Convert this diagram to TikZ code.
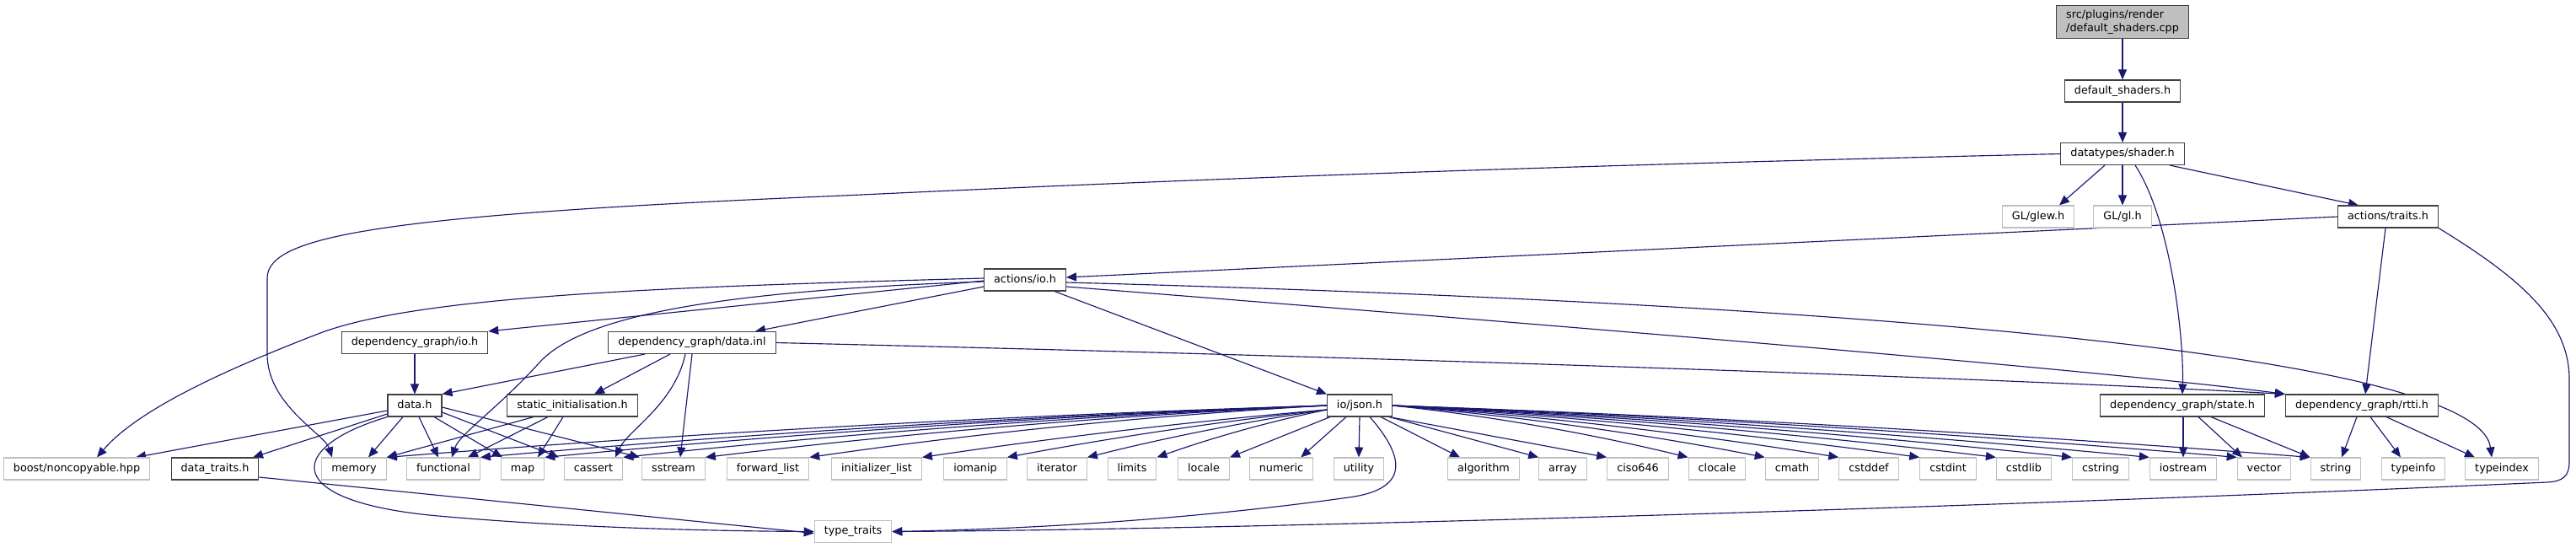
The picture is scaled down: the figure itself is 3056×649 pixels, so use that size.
\documentclass[tikz,border=0pt]{standalone}
\usepackage{fontspec}
\setmainfont{DejaVu Sans}
\usetikzlibrary{arrows.meta,calc}
\definecolor{edgec}{HTML}{191970}
\definecolor{intb}{HTML}{404040}
\definecolor{extb}{HTML}{BFBFBF}
\definecolor{rootf}{HTML}{BFBFBF}
\pgfdeclarelayer{bg}
\pgfsetlayers{bg,main}
\tikzset{
 box/.style={rectangle, inner xsep=11.5pt, inner ysep=0pt, minimum height=26pt, text height=9.6pt, text depth=2.9pt, line width=1.1pt, fill=white},
 intn/.style={box, draw=intb},
 extn/.style={box, draw=extb},
 rootn/.style={rectangle, draw=intb, fill=rootf, line width=1.1pt, inner xsep=11.5pt, inner ysep=5pt, align=left},
 dep/.style={edgec, line width=1.15pt, -{Triangle[length=12pt,width=10pt]}}
}
\newcommand{\bowline}[3]{\draw[dep] (#1) .. controls ($(#1)!0.33!(#2)+(0,-#3)$) and ($(#1)!0.67!(#2)+(0,-#3)$) .. (#2);}
\begin{document}
\begin{tikzpicture}[x=1pt,y=-1pt,font=\fontsize{12.8}{15.5}\selectfont]
\useasboundingbox (0,0) rectangle (3056,649);
% nodes
\node[rootn] (cpp) at (2518,26) {src/plugins/render\\/default\_shaders.cpp};
\node[intn] (dsh) at (2518,108) {default\_shaders.h};
\node[intn] (shader) at (2518,182.5) {datatypes/shader.h};
\node[extn] (glew) at (2418,257) {GL/glew.h};
\node[extn] (gl) at (2518,257) {GL/gl.h};
\node[intn] (traits) at (2833,257) {actions/traits.h};
\node[intn] (io) at (1216,332) {actions/io.h};
\node[intn] (dgio) at (492,406.5) {dependency\_graph/io.h};
\node[intn] (dinl) at (821,406.5) {dependency\_graph/data.inl};
\node[intn] (datah) at (492,481) {data.h};
\node[intn] (stat) at (679,481) {static\_initialisation.h};
\node[intn] (json) at (1613,481) {io/json.h};
\node[intn] (state) at (2589,481) {dependency\_graph/state.h};
\node[intn] (rtti) at (2802,481) {dependency\_graph/rtti.h};
\node[extn] (boost) at (91,556) {boost/noncopyable.hpp};
\node[intn] (dtraits) at (255,556) {data\_traits.h};
\foreach \n/\x/\t in {memory/420/memory, functional/526/functional, map/620/map, cassert/704/cassert, sstream/799/sstream, fwdlist/911/forward\_list, initlist/1040/initializer\_list, iomanip/1157/iomanip, iterator/1254/iterator, limits/1343/limits, locale/1428/locale, numeric/1520/numeric, utility/1612/utility, algorithm/1760/algorithm, array/1854/array, ciso/1943/ciso646, clocale/2037/clocale, cmath/2126/cmath, cstddef/2217/cstddef, cstdint/2311/cstdint, cstdlib/2401/cstdlib, cstring/2492/cstring, iostream/2590/iostream, vector/2686/vector, string/2771/string, typeinfo/2863/typeinfo, typeindex/2968/typeindex}
  {\node[extn] (\n) at (\x,556) {\t};}
\node[extn] (ttraits) at (1012,630.5) {type\_traits};
% edges
\begin{pgfonlayer}{bg}
\draw[dep] (cpp) -- (dsh);
\draw[dep] (dsh) -- (shader);
\draw[dep] (shader.west) .. controls (1700,200) and (1300,218) .. (1000,232) .. controls (450,255) and (317,280) .. (317,330) -- (317,420) .. controls (317,480) and (385,515) .. ([xshift=-26pt]memory.north);
\draw[dep] ([xshift=-21pt]shader.south) -- ([xshift=25pt]glew.north);
\draw[dep] (shader.south) -- (gl.north);
\draw[dep] ([xshift=56pt]shader.south) -- ([xshift=-35pt]traits.north);
\draw[dep] ([xshift=15pt]shader.south) .. controls (2575,260) and (2591,400) .. (state.north);
\draw[dep] (traits.west) -- ([yshift=3pt]io.east);
\draw[dep] ([xshift=-3pt]traits.south) -- ([xshift=4pt]rtti.north);
\draw[dep] (traits.south east) .. controls (2990,330) and (3048,380) .. (3048,450) -- (3048,548) .. controls (3048,565) and (3040,571) .. (3022,572) .. controls (2400,600) and (1500,628) .. (ttraits.east);
% actions/io.h
\draw[dep] ([yshift=2pt]io.west) .. controls (800,340) and (500,350) .. (380,395) .. controls (250,445) and (160,490) .. ([xshift=24pt]boost.north);
\draw[dep] ([yshift=-1pt]io.west) -- (dgio.north east);
\draw[dep] ([yshift=-8pt]io.west) -- ([xshift=75pt]dinl.north);
\draw[dep] ([yshift=-2pt]io.west) .. controls (850,345) and (690,375) .. (640,430) .. controls (590,485) and (545,515) .. ([xshift=10pt]functional.north);
\draw[dep] ([xshift=35pt]io.south) -- (json.north west);
\draw[dep] ([yshift=-8pt]io.east) .. controls (1900,390) and (2500,440) .. (rtti.north west);
\draw[dep] ([yshift=-3pt]io.east) .. controls (2200,360) and (2940,420) .. ([xshift=-12pt]typeindex.north);
% dependency_graph/io.h, data.inl
\draw[dep] (dgio) -- (datah);
\draw[dep] ([xshift=-56pt]dinl.south) -- (datah.north east);
\draw[dep] ([xshift=-26pt]dinl.south) -- ([xshift=26pt]stat.north);
\draw[dep] ([xshift=-8pt]dinl.south) .. controls (800,480) and (745,510) .. ([xshift=26pt]cassert.north);
\draw[dep] (dinl.south) -- ([xshift=8pt]sstream.north);
\draw[dep] (dinl.east) .. controls (1500,420) and (2300,445) .. (rtti.north west);
% data.h
\draw[dep] ([yshift=-6pt]datah.west) -- ([xshift=70pt]boost.north);
\draw[dep] ([yshift=-10pt]datah.west) -- ([xshift=45pt]dtraits.north);
\draw[dep] ([xshift=-14pt]datah.south) -- ([xshift=17pt]memory.north);
\draw[dep] ([xshift=5pt]datah.south) -- ([xshift=-6pt]functional.north);
\draw[dep] ([xshift=23pt]datah.south) -- ([xshift=-24pt]map.north);
\draw[dep] ([yshift=-8pt]datah.east) -- ([xshift=-41pt]cassert.north);
\draw[dep] ([yshift=-2pt]datah.east) -- ([xshift=-40pt]sstream.north);
\draw[dep] (datah.south west) .. controls (340,530) and (330,595) .. (520,612) .. controls (700,628) and (880,630) .. (ttraits.west);
% static_initialisation.h
\draw[dep] ([xshift=-46pt]stat.south) -- (memory.north east);
\draw[dep] ([xshift=-29pt]stat.south) -- ([xshift=29pt]functional.north);
\draw[dep] ([xshift=-11pt]stat.south) -- ([xshift=18pt]map.north);
% data_traits.h
\draw[dep] ([yshift=-10pt]dtraits.east) -- ([yshift=-2pt]ttraits.west);
% io/json.h
\foreach \t in {memory,functional,map,cassert,sstream,fwdlist}
  {\bowline{json.west}{\t.north east}{9}}
\foreach \t in {initlist,iomanip,iterator,limits}
  {\bowline{[yshift=-5pt]json.west}{\t.north east}{5}}
\draw[dep] ([xshift=4pt]json.south west) -- (locale.north east);
\draw[dep] ([xshift=-16pt]json.south) -- ([xshift=-15pt]numeric.north east);
\draw[dep] (json.south) -- (utility.north);
\draw[dep] ([xshift=-14pt]json.south east) -- ([xshift=15pt]algorithm.north west);
\foreach \t in {array,ciso}
  {\draw[dep] ([xshift=-4pt]json.south east) -- (\t.north west);}
\foreach \t in {clocale,cmath,cstddef,cstdint,cstdlib,cstring,iostream,vector,string}
  {\bowline{json.east}{\t.north west}{8}}
\draw[dep] ([xshift=12pt]json.south) .. controls (1665,540) and (1675,580) .. (1600,590) .. controls (1400,618) and (1200,628) .. (ttraits.east);
% state.h, rtti.h
\draw[dep] ([xshift=1pt]state.south) -- (iostream.north);
\draw[dep] ([xshift=19pt]state.south) -- ([xshift=-26pt]vector.north);
\draw[dep] ([xshift=34pt]state.south) -- (string.north west);
\draw[dep] ([xshift=-6pt]rtti.south) -- ([xshift=7pt]string.north);
\draw[dep] ([xshift=10pt]rtti.south) -- ([xshift=-15pt]typeinfo.north);
\draw[dep] ([xshift=29pt]rtti.south) -- ([xshift=-32pt]typeindex.north);
\end{pgfonlayer}
\end{tikzpicture}
\end{document}
